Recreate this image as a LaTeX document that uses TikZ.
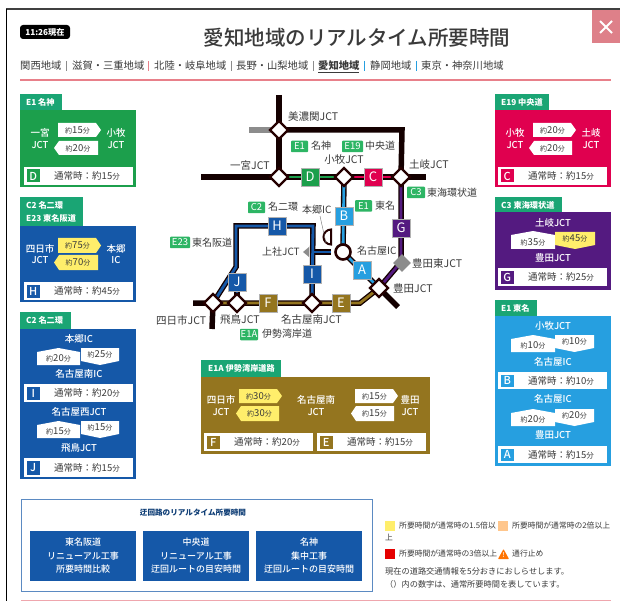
\documentclass[tikz,border=0pt]{standalone}
\usepackage{fontspec}
\setmainfont{Noto Sans CJK JP}
\newfontfamily\medf{Noto Sans CJK JP Medium}
\usetikzlibrary{shapes.geometric}
\definecolor{ink}{HTML}{3A3A3A}
\definecolor{cgreen}{HTML}{1C9F4C}
\definecolor{cteal}{HTML}{1AA574}
\definecolor{cblue}{HTML}{1558A8}
\definecolor{cpurple}{HTML}{541A80}
\definecolor{csky}{HTML}{269FE0}
\definecolor{cgold}{HTML}{94751F}
\definecolor{cred}{HTML}{E0004F}
\definecolor{cyel}{HTML}{FFEE6B}
\definecolor{ctag}{HTML}{2DB564}
\definecolor{cpink}{HTML}{E8808A}
\pgfdeclarelayer{bg}\pgfdeclarelayer{lines}
\pgfsetlayers{bg,lines,main}
\newcount\nn
\newcommand{\pFs}[1]{\fontsize{#1}{#1}\selectfont}
\def\pWhite{white}
\newcommand{\pPick}[1]{\def\pTmp{#1}\ifx\pTmp\pWhite\medf\fi}
% generic text: x,y,size,colour,anchor,text
\newcommand{\pTx}[6]{\global\advance\nn by 1 \node[inner sep=0pt,anchor=#5,text=#4,font=\pFs{#3}] (n\the\nn) at (#1,#2) {\pPick{#4}#6};}
\newcommand{\pTm}[1]{{\pFs{7}約}{\pFs{9.5}#1}{\pFs{7}分}}
% right / left / up / down arrows: x1,x2,y1,y2,colour,minutes
\newcommand{\pAr}[6]{\fill[#5] (#1,#3) -- (#2-5,#3) -- (#2,#3/2+#4/2) -- (#2-5,#4) -- (#1,#4) -- cycle; \pTx{#1/2+#2/2-2}{#3/2+#4/2}{9}{ink}{center}{\pTm{#6}}}
\newcommand{\pAl}[6]{\fill[#5] (#2,#3) -- (#1+5,#3) -- (#1,#3/2+#4/2) -- (#1+5,#4) -- (#2,#4) -- cycle; \pTx{#1/2+#2/2+2}{#3/2+#4/2}{9}{ink}{center}{\pTm{#6}}}
\newcommand{\pAu}[6]{\fill[#5] (#1,#3+4) -- (#1/2+#2/2,#3) -- (#2,#3+4) -- (#2,#4) -- (#1,#4) -- cycle; \pTx{#1/2+#2/2}{#3/2+#4/2+2}{9}{ink}{center}{\pTm{#6}}}
\newcommand{\pAd}[6]{\fill[#5] (#1,#3) -- (#2,#3) -- (#2,#4-4) -- (#1/2+#2/2,#4) -- (#1,#4-4) -- cycle; \pTx{#1/2+#2/2}{#3/2+#4/2-2}{9}{ink}{center}{\pTm{#6}}}
% bar: x1,y1,x2,y2,colour,letter,minutes
\newcommand{\pBar}[7]{\fill[white] (#1,#2) rectangle (#3,#4);
 \fill[#5] (#1+2.5,#2+2.5) rectangle (#1+16,#4-2.5);
 \pTx{#1+9.2}{#2/2+#4/2}{11}{white}{center}{#6}
 \pTx{#1+63}{#2/2+#4/2}{9.5}{ink}{center}{通常時：約#7{\pFs{7.5}分}}}
\newcommand{\pBody}[5]{\fill[#5] (#1,#2) rectangle (#3,#4);}
\newcommand{\pTab}[4]{\fill[cteal] (#1,#2) rectangle (#3,#4);}
\newcommand{\pTag}[4]{\global\advance\nn by 1 \node[fill=ctag,text=white,font=\pFs{9.5},inner sep=0pt,minimum width=#3,minimum height=11.5,rounded corners=0.8] (n\the\nn) at (#1,#2) {#4};}
\tikzset{
 jct/.style={shape=diamond,draw=black!85!red,fill=white,line width=2.2,minimum width=19,minimum height=19,inner sep=0pt},
 road/.style={draw=black!92!red,line width=5.5},
 grayroad/.style={draw=black!45,line width=5.5},
 inner/.style={line width=2.8},
 letter/.style={minimum width=18,minimum height=18,inner sep=0pt,text=white,font=\pFs{13},draw=white!70!black,line width=0.2},
}
\begin{document}
\begin{tikzpicture}[x=1pt,y=-1pt]
\useasboundingbox (0,0) rectangle (620,601);
\begin{pgfonlayer}{bg}\fill[white] (0,0) rectangle (620,601);\end{pgfonlayer}
% frame
\draw[black!75,line width=1.5] (6,9) -- (620,9);
\draw[black,line width=1] (6,9) -- (6,601);
\fill[cpink!90!gray] (592,10) rectangle (620,43);
\draw[white,line width=1.8] (600,21) -- (612,33) (612,21) -- (600,33);
% header
\fill[black,rounded corners=3] (20,25) rectangle (70,39);
\pTx{45}{32}{8.2}{white}{center}{\textbf{11:26現在}}
\pTx{357}{38}{20.5}{ink}{center}{\medf 愛知地域のリアルタイム所要時間}
\pTx{20}{66}{10.3}{ink}{west}{関西地域}
\pTx{72}{66}{10.3}{ink}{west}{滋賀・三重地域}
\pTx{154}{66}{10.3}{ink}{west}{北陸・岐阜地域}
\pTx{236}{66}{10.3}{ink}{west}{長野・山梨地域}
\pTx{318}{66}{10.3}{ink}{west}{\textbf{愛知地域}}
\pTx{370}{66}{10.3}{ink}{west}{静岡地域}
\pTx{421}{66}{10.3}{ink}{west}{東京・神奈川地域}
\draw[ink,line width=0.7] (318,72) -- (359,72);
\draw[black!45,line width=.6] (66,61)--(66,71) (231,61)--(231,71) (313,61)--(313,71);
\draw[cpink,line width=.6] (148,61)--(148,71);
\draw[csky,line width=.6] (364,61)--(364,71) (416,61)--(416,71);
\draw[cpink,line width=1.3] (20,80) -- (611,80);
% E1 panel
\pTab{20}{94}{62}{110}
\pBody{20}{110}{136}{187}{cgreen}
\pTx{26}{102}{8.2}{white}{west}{\textbf{E1 名神}}
\pTx{40}{133}{9.5}{white}{center}{一宮}\pTx{40}{145}{9.5}{white}{center}{JCT}
\pTx{116}{133}{9.5}{white}{center}{小牧}\pTx{116}{145}{9.5}{white}{center}{JCT}
\pAr{58}{101}{123}{137}{white}{15}
\pAl{54}{98}{141}{155}{white}{20}
\pBar{24}{167}{133}{185}{cgreen}{D}{15}
% C2 E23 panel
\pTab{20}{197}{83}{226}
\pBody{20}{226}{136}{302}{cblue}
\pTx{26}{205}{8.2}{white}{west}{\textbf{C2 名二環}}
\pTx{26}{218}{8.2}{white}{west}{\textbf{E23 東名阪道}}
\pTx{40}{249}{9.5}{white}{center}{四日市}\pTx{40}{260}{9.5}{white}{center}{JCT}
\pTx{116}{249}{9.5}{white}{center}{本郷}\pTx{116}{260}{9.5}{white}{center}{IC}
\pAr{58}{101}{238}{253}{cyel}{75}
\pAl{54}{98}{255}{270}{cyel}{70}
\pBar{24}{282}{133}{300}{cblue}{H}{45}
% C2 panel
\pTab{20}{312}{71}{329}
\pBody{20}{329}{136}{479}{cblue}
\pTx{26}{320}{8.2}{white}{west}{\textbf{C2 名二環}}
\pTx{79}{339}{9.5}{white}{center}{本郷IC}
\pAu{37}{80}{348}{365}{white}{20}
\pAd{81}{119}{348}{365}{white}{25}
\pTx{79}{374}{9.5}{white}{center}{名古屋南IC}
\pBar{24}{384}{133}{402}{cblue}{I}{20}
\pTx{79}{412}{9.5}{white}{center}{名古屋西JCT}
\pAu{37}{80}{421}{438}{white}{15}
\pAd{81}{119}{421}{438}{white}{15}
\pTx{79}{448}{9.5}{white}{center}{飛鳥JCT}
\pBar{24}{458}{133}{477}{cblue}{J}{15}
% E19 panel
\pTab{495}{94}{549}{110}
\pBody{495}{110}{611}{187}{cred}
\pTx{501}{102}{8.2}{white}{west}{\textbf{E19 中央道}}
\pTx{515}{133}{9.5}{white}{center}{小牧}\pTx{515}{145}{9.5}{white}{center}{JCT}
\pTx{591}{133}{9.5}{white}{center}{土岐}\pTx{591}{145}{9.5}{white}{center}{JCT}
\pAr{533}{576}{123}{137}{white}{20}
\pAl{529}{572}{141}{155}{white}{20}
\pBar{498}{167}{607}{185}{cred}{C}{15}
% C3 panel
\pTab{495}{197}{562}{212}
\pBody{495}{212}{611}{290}{cpurple}
\pTx{501}{205}{8.2}{white}{west}{\textbf{C3 東海環状道}}
\pTx{553}{223}{9.5}{white}{center}{土岐JCT}
\pAu{511}{555}{231}{249}{white}{35}
\pAd{555}{595}{232}{249}{cyel}{45}
\pTx{553}{258}{9.5}{white}{center}{豊田JCT}
\pBar{498}{268}{607}{286}{cpurple}{G}{25}
% E1 Tomei panel
\pTab{495}{300}{537}{316}
\pBody{495}{316}{611}{466}{csky}
\pTx{501}{308}{8.2}{white}{west}{\textbf{E1 東名}}
\pTx{553}{326}{9.5}{white}{center}{小牧JCT}
\pAu{511}{555}{335}{352}{white}{10}
\pAd{555}{594}{335}{352}{white}{10}
\pTx{553}{362}{9.5}{white}{center}{名古屋IC}
\pBar{498}{372}{607}{389}{csky}{B}{10}
\pTx{553}{399}{9.5}{white}{center}{名古屋IC}
\pAu{511}{555}{409}{426}{white}{20}
\pAd{555}{594}{409}{426}{white}{20}
\pTx{553}{435}{9.5}{white}{center}{豊田JCT}
\pBar{498}{446}{607}{463}{csky}{A}{15}
% E1A panel
\pTab{201}{360}{281}{377}
\pBody{201}{377}{430}{454}{cgold}
\pTx{208}{368.5}{8.2}{white}{west}{\textbf{E1A 伊勢湾岸道路}}
\pTx{221}{400}{9.5}{white}{center}{四日市}\pTx{221}{412}{9.5}{white}{center}{JCT}
\pTx{316}{400}{9.5}{white}{center}{名古屋南}\pTx{316}{412}{9.5}{white}{center}{JCT}
\pTx{410}{400}{9.5}{white}{center}{豊田}\pTx{410}{412}{9.5}{white}{center}{JCT}
\pAr{239}{282}{389}{403}{cyel}{30}
\pAl{236}{279}{406}{421}{cyel}{30}
\pAr{355}{398}{389}{403}{white}{15}
\pAl{351}{394}{406}{421}{white}{15}
\pBar{204}{433}{313}{451}{cgold}{F}{20}
\pBar{317}{433}{426}{451}{cgold}{E}{15}
% Map nodes
\node[shape=diamond,fill=black!45,minimum width=18,minimum height=18,inner sep=0pt] (higashi) at (402,263) {};
\node[jct] (mino) at (279,130) {};
\node[jct] (ichi) at (279,177) {};
\node[jct] (komaki) at (344,177) {};
\node[jct] (toki) at (401,177) {};
\node[jct] (toyota) at (379,288) {};
\node[jct] (yokka) at (213,303) {};
\node[jct] (tobi) at (237,303) {};
\node[jct] (minami) at (312,303) {};
\node[circle,draw=black!85!red,fill=white,line width=2.6,minimum size=15,inner sep=0pt] (nagoya) at (343,252) {};
\node[letter,fill=cgreen] (D) at (310,177) {D};
\node[letter,fill=cred] (C) at (373,177) {C};
\node[letter,fill=csky] (B) at (344,216) {B};
\node[letter,fill=csky] (A) at (362,270) {A};
\node[letter,fill=cpurple] (G) at (401,228) {G};
\node[letter,fill=cblue] (H) at (277,226) {H};
\node[letter,fill=cblue] (I) at (312,274) {I};
\node[letter,fill=cblue] (J) at (237,282) {J};
\node[letter,fill=cgold] (F) at (268,303) {F};
\node[letter,fill=cgold] (E) at (341,303) {E};
\coordinate (top) at (279,95);
\coordinate (minoW) at (249,130);
\coordinate (ne) at (402,130);
\coordinate (ichiW) at (201,177);
\coordinate (tokiE) at (426,177);
\coordinate (toySE) at (398,307);
\coordinate (yokS) at (212,329);
\coordinate (yokW) at (193,303);
\coordinate (bend) at (401,262);
\coordinate (gbend) at (360,303);
\coordinate (c2a) at (236,267);
\coordinate (c2b) at (236,226);
\coordinate (c2c) at (313,226);
\coordinate (c2d) at (313,252);
\coordinate (kami) at (331,252);
\coordinate (hongoL) at (320,216);
\coordinate (hongoE) at (326,243);
\begin{pgfonlayer}{lines}
\draw[grayroad] (minoW) -- (mino.center);
\draw[road] (top) -- (mino.center) -- (ichi.center);
\draw[road] (mino.center) -- (ne) -- (toki.center);
\draw[road] (ichiW) -- (ichi.center) -- (komaki.center) -- (toki.center) -- (tokiE);
\draw[road] (toki.center) -- (bend) -- (toyota.center) -- (toySE);
\draw[road] (komaki.center) -- (nagoya.center) -- (toyota.center);
\draw[road] (yokS) -- (yokka.center) -- (yokW);
\draw[road] (yokka.center) -- (minami.center) -- (gbend) -- (toyota.center);
\draw[road] (yokka.center) -- (c2a) -- (c2b) -- (c2c) -- (minami.center);
\draw[road] (J.center) -- (tobi.center);
\draw[road] (c2d) -- (kami);
\draw[inner,cgreen] (ichi.center) -- (komaki.center);
\draw[inner,cred] (komaki.center) -- (toki.center);
\draw[inner,csky] (komaki.center) -- (nagoya.center) -- (toyota.center);
\draw[inner,cpurple] (toki.center) -- (bend) -- (toyota.center);
\draw[inner,cgold] (yokka.center) -- (minami.center) -- (gbend) -- (toyota.center);
\draw[inner,cblue] (yokka.center) -- (c2a) -- (c2b) -- (c2c) -- (minami.center);
\draw[inner,cblue] (J.center) -- (tobi.center);
\draw[inner,cblue] (c2d) -- (kami);
\end{pgfonlayer}
% Kamiyashiro half disc and gray marker
\filldraw[fill=white,draw=black!85!red,line width=2] (331,244.5) arc[start angle=90,end angle=270,radius=7.5] -- cycle;
\fill[black!45] (303,252) -- (309,247) -- (309,257) -- cycle;
\draw[black!55,line width=.4] (hongoL) -- (hongoE);
% Map labels
\pTx{288}{117}{10.5}{ink}{west}{美濃関JCT}
\pTag{299.5}{146.5}{17}{E1}\pTx{311}{146}{10}{ink}{west}{名神}
\pTag{352.5}{146.5}{21}{E19}\pTx{365}{146}{10}{ink}{west}{中央道}
\pTx{344}{159.5}{10.5}{ink}{center}{小牧JCT}
\pTx{409}{165}{10.5}{ink}{west}{土岐JCT}
\pTx{230}{165}{10.5}{ink}{west}{一宮JCT}
\pTag{416}{192.5}{18}{C3}\pTx{427}{193}{10}{ink}{west}{東海環状道}
\pTag{363.5}{206}{17}{E1}\pTx{375}{206}{10}{ink}{west}{東名}
\pTag{256.5}{207.5}{17}{C2}\pTx{268}{207}{10}{ink}{west}{名二環}
\pTx{302}{210}{10}{ink}{west}{本郷IC}
\pTag{180}{242.5}{20}{E23}\pTx{192}{243}{10}{ink}{west}{東名阪道}
\pTx{262}{252}{10}{ink}{west}{上社JCT}
\pTx{357}{251}{10}{ink}{west}{名古屋IC}
\pTx{412}{263}{10.5}{ink}{west}{豊田東JCT}
\pTx{393}{288}{10.5}{ink}{west}{豊田JCT}
\pTx{156}{320}{10.5}{ink}{west}{四日市JCT}
\pTx{220}{320}{10.5}{ink}{west}{飛鳥JCT}
\pTx{281}{320}{10.5}{ink}{west}{名古屋南JCT}
\pTag{249}{334.5}{18}{E1A}\pTx{262}{334}{10}{ink}{west}{伊勢湾岸道}
% Detour box
\draw[cblue!70!white,line width=.9] (21,499) rectangle (372,591);
\pTx{193}{513}{7.6}{cblue!70!black}{center}{\textbf{迂回路のリアルタイム所要時間}}
\fill[cblue] (30,531) rectangle (136,581);
\fill[cblue] (143,531) rectangle (249,581);
\fill[cblue] (256,531) rectangle (362,581);
\pTx{83}{542.5}{9}{white}{center}{東名阪道}\pTx{83}{556}{9}{white}{center}{リニューアル工事}\pTx{83}{569.5}{9}{white}{center}{所要時間比較}
\pTx{196}{542.5}{9}{white}{center}{中央道}\pTx{196}{556}{9}{white}{center}{リニューアル工事}\pTx{196}{569.5}{9}{white}{center}{迂回ルートの目安時間}
\pTx{309}{542.5}{9}{white}{center}{名神}\pTx{309}{556}{9}{white}{center}{集中工事}\pTx{309}{569.5}{9}{white}{center}{迂回ルートの目安時間}
% Legend
\fill[cyel] (385,521) rectangle (395,531);
\fill[orange!45!white] (498,521) rectangle (508,531);
\fill[red!90!black] (385,549) rectangle (395,559);
\fill[orange!90!red,rounded corners=.6] (498,559) -- (503.5,549) -- (509,559) -- cycle;
\pTx{503.5}{555}{6.5}{white}{center}{!}
\pTx{399}{526}{7.8}{ink}{west}{所要時間が通常時の1.5倍以}
\pTx{512}{526}{7.8}{ink}{west}{所要時間が通常時の2倍以上}
\pTx{385}{537}{7.8}{ink}{west}{上}
\pTx{399}{554}{7.8}{ink}{west}{所要時間が通常時の3倍以上}
\pTx{512}{554}{7.8}{ink}{west}{通行止め}
\pTx{385}{571.5}{8.2}{ink}{west}{現在の道路交通情報を5分おきにおしらせします。}
\pTx{385}{584}{8.2}{ink}{west}{（）内の数字は、通常所要時間を表しています。}
\draw[cpink!70!white,line width=.9] (21,600) -- (611,600);
\end{tikzpicture}
\end{document}
